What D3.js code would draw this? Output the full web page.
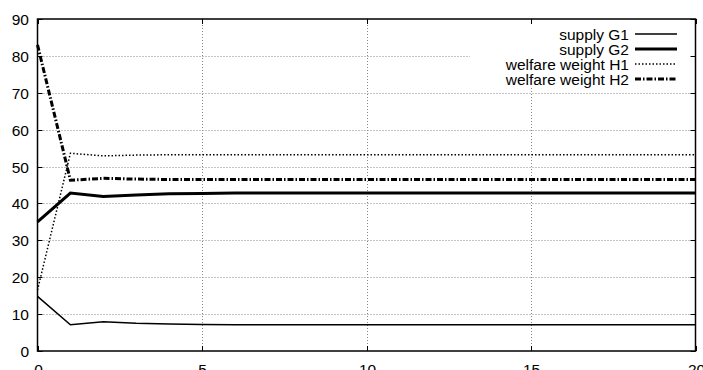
<!DOCTYPE html>
<html>
<head>
<script src="https://cdnjs.cloudflare.com/ajax/libs/d3/7.8.5/d3.min.js"></script>
<style>
body { margin: 0; background: #fff; }
text { font-family: "Liberation Sans", Arial, sans-serif; font-size: 15.5px; fill: #000; }
</style>
</head>
<body>
<script>
// data
var steps = d3.range(0, 21)
var g1 = [14.8, 7.1, 7.9, 7.5, 7.3, 7.2, 7.1, 7.1, 7.1, 7.1, 7.1, 7.1, 7.1, 7.1, 7.1, 7.1, 7.1, 7.1, 7.1, 7.1, 7.1]
var g2 = [35, 42.8, 41.9, 42.3, 42.6, 42.7, 42.8, 42.8, 42.8, 42.8, 42.8, 42.8, 42.8, 42.8, 42.8, 42.8, 42.8, 42.8, 42.8, 42.8, 42.8]
var h1 = [16.5, 53.6, 52.9, 53.1, 53.2, 53.2, 53.2, 53.2, 53.2, 53.2, 53.2, 53.2, 53.2, 53.2, 53.2, 53.2, 53.2, 53.2, 53.2, 53.2, 53.2]
var h2 = [83, 46.3, 46.8, 46.6, 46.5, 46.5, 46.5, 46.5, 46.5, 46.5, 46.5, 46.5, 46.5, 46.5, 46.5, 46.5, 46.5, 46.5, 46.5, 46.5, 46.5]
var xTicks = [0, 5, 10, 15, 20]
var yTicks = [0, 10, 20, 30, 40, 50, 60, 70, 80, 90]
var names = ["supply G1", "supply G2", "welfare weight H1", "welfare weight H2"]

var w = 703, h = 370
var mLeft = 37.5, mRight = 695.5, mTop = 19, mBottom = 351

var svg = d3.select("body").append("svg")
    .attr("width", w)
    .attr("height", h)

var x = d3.scaleLinear().domain([0, 20]).range([mLeft, mRight])
var y = d3.scaleLinear().domain([0, 90]).range([mBottom, mTop])

// grid
svg.append("g").selectAll("line")
    .data(yTicks.filter(function(d){ return d > 0 && d < 90 }))
    .enter().append("line")
    .attr("x1", mLeft).attr("x2", mRight)
    .attr("y1", function(d){ return Math.round(y(d)) + 0.5 })
    .attr("y2", function(d){ return Math.round(y(d)) + 0.5 })
    .style("stroke", "#888").style("stroke-dasharray", "1,2")

svg.append("g").selectAll("line")
    .data(xTicks.filter(function(d){ return d > 0 && d < 20 }))
    .enter().append("line")
    .attr("y1", mTop).attr("y2", mBottom)
    .attr("x1", function(d){ return Math.round(x(d)) + 0.5 })
    .attr("x2", function(d){ return Math.round(x(d)) + 0.5 })
    .style("stroke", "#888").style("stroke-dasharray", "1,2")

// legend background covers the grid
svg.append("rect")
    .attr("x", 470).attr("y", mTop + 1)
    .attr("width", 222).attr("height", 67)
    .style("fill", "#fff")

// inward ticks on all sides
var tk = 5
yTicks.forEach(function(d){
    var yy = Math.round(y(d)) + 0.5
    svg.append("line").attr("x1", mLeft).attr("x2", mLeft + tk).attr("y1", yy).attr("y2", yy).style("stroke", "#000")
    svg.append("line").attr("x1", mRight).attr("x2", mRight - tk).attr("y1", yy).attr("y2", yy).style("stroke", "#000")
    svg.append("text").attr("x", 29).attr("y", yy + 5.5).attr("text-anchor", "end").text(d)
})
xTicks.forEach(function(d){
    var xx = Math.round(x(d)) + 0.5
    svg.append("line").attr("x1", xx).attr("x2", xx).attr("y1", mBottom).attr("y2", mBottom - tk).style("stroke", "#000")
    svg.append("line").attr("x1", xx).attr("x2", xx).attr("y1", mTop).attr("y2", mTop + tk).style("stroke", "#000")
    svg.append("text").attr("x", xx).attr("y", 375).attr("text-anchor", "middle").text(d)
})

// frame
svg.append("rect")
    .attr("x", mLeft).attr("y", mTop)
    .attr("width", mRight - mLeft).attr("height", mBottom - mTop)
    .style("fill", "none").style("stroke", "#000").style("stroke-width", 1.5)

var styles = [
    {width: 1.5, dash: null},
    {width: 3, dash: null},
    {width: 1.5, dash: "1.5,2"},
    {width: 3, dash: "6,2,1.5,2"}
]
var series = [g1, g2, h1, h2]

var line = d3.line()
    .x(function(d, i){ return x(steps[i]) })
    .y(function(d){ return y(d) })

series.forEach(function(s, k){
    svg.append("path")
        .datum(s)
        .attr("d", line)
        .style("fill", "none")
        .style("stroke", "#000")
        .style("stroke-width", styles[k].width)
        .style("stroke-dasharray", styles[k].dash)

    var ly = 34 + k * 15
    svg.append("text").attr("x", 629).attr("y", ly + 5.5).attr("text-anchor", "end").text(names[k])
    svg.append("line")
        .attr("x1", 635).attr("x2", 677)
        .attr("y1", ly).attr("y2", ly)
        .style("stroke", "#000")
        .style("stroke-width", styles[k].width)
        .style("stroke-dasharray", styles[k].dash)
})
</script>
</body>
</html>
